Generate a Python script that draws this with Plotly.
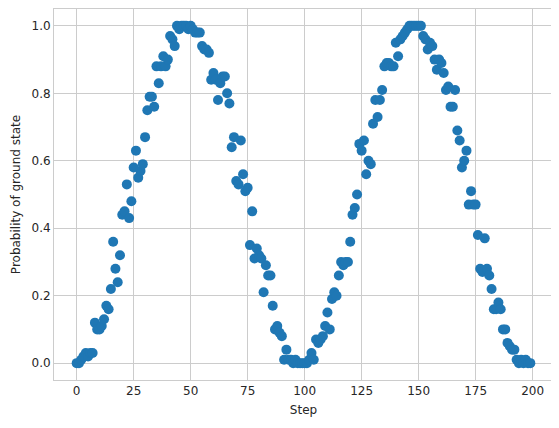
"""
Scatter of ground state probability per step
"""
import plotly.graph_objects as go

# Probability of ground state, one value per step (steps 0..199)
prob_0_49 = [
    0.00, 0.00, 0.01, 0.02, 0.03, 0.02, 0.03, 0.03, 0.12, 0.10,
    0.10, 0.11, 0.13, 0.17, 0.16, 0.22, 0.36, 0.28, 0.24, 0.32,
    0.44, 0.45, 0.53, 0.43, 0.48, 0.58, 0.63, 0.55, 0.57, 0.59,
    0.67, 0.75, 0.79, 0.79, 0.76, 0.88, 0.83, 0.88, 0.91, 0.88,
    0.90, 0.97, 0.96, 0.94, 1.00, 0.99, 1.00, 1.00, 1.00, 0.99,
]
prob_50_99 = [
    1.00, 0.99, 0.98, 0.98, 0.98, 0.94, 0.93, 0.93, 0.92, 0.84,
    0.86, 0.84, 0.78, 0.83, 0.85, 0.85, 0.80, 0.77, 0.64, 0.67,
    0.54, 0.53, 0.66, 0.56, 0.51, 0.52, 0.35, 0.45, 0.31, 0.34,
    0.32, 0.31, 0.21, 0.29, 0.26, 0.26, 0.17, 0.10, 0.11, 0.09,
    0.08, 0.01, 0.04, 0.01, 0.01, 0.00, 0.01, 0.00, 0.00, 0.00,
]
prob_100_149 = [
    0.00, 0.00, 0.01, 0.03, 0.01, 0.07, 0.06, 0.07, 0.08, 0.11,
    0.15, 0.10, 0.19, 0.21, 0.20, 0.26, 0.30, 0.29, 0.30, 0.30,
    0.36, 0.44, 0.46, 0.50, 0.65, 0.63, 0.66, 0.56, 0.60, 0.59,
    0.71, 0.78, 0.73, 0.78, 0.81, 0.88, 0.89, 0.89, 0.88, 0.88,
    0.95, 0.91, 0.96, 0.97, 0.98, 0.99, 1.00, 1.00, 1.00, 1.00,
]
prob_150_199 = [
    1.00, 1.00, 0.97, 0.96, 0.93, 0.95, 0.94, 0.90, 0.87, 0.90,
    0.89, 0.86, 0.81, 0.82, 0.76, 0.76, 0.81, 0.69, 0.66, 0.58,
    0.60, 0.63, 0.47, 0.51, 0.47, 0.47, 0.38, 0.28, 0.27, 0.37,
    0.28, 0.26, 0.22, 0.16, 0.16, 0.18, 0.16, 0.10, 0.10, 0.06,
    0.05, 0.04, 0.04, 0.01, 0.00, 0.01, 0.00, 0.01, 0.00, 0.00,
]

probabilities = prob_0_49 + prob_50_99 + prob_100_149 + prob_150_199
steps = list(range(len(probabilities)))

x_ticks = [0, 25, 50, 75, 100, 125, 150, 175, 200]
y_ticks = [0.0, 0.2, 0.4, 0.6, 0.8, 1.0]

GRID = '#cccccc'
TEXT = '#262626'

fig = go.Figure()

fig.add_trace(go.Scatter(
    x=steps,
    y=probabilities,
    mode='markers',
    marker=dict(color='#1f77b4', size=10, line=dict(width=0)),
    showlegend=False
))

axis_style = dict(
    showgrid=True,
    gridcolor=GRID,
    gridwidth=1,
    zeroline=False,
    showline=True,
    linecolor=GRID,
    linewidth=1,
    mirror=True,
    ticks='',
    tickfont=dict(size=12, color=TEXT),
)

# the page body adds an 8px offset, so the figure is a bit smaller
fig.update_layout(
    width=551,
    height=420,
    margin=dict(l=46, r=6, t=1, b=48),
    plot_bgcolor='white',
    paper_bgcolor='white',
    font=dict(family='DejaVu Sans', color=TEXT, size=12),
    xaxis=dict(
        range=[-9.95, 208.95],
        tickvals=x_ticks,
        title=dict(text='Step', font=dict(size=12, color=TEXT), standoff=8),
        **axis_style
    ),
    yaxis=dict(
        range=[-0.05, 1.05],
        tickvals=y_ticks,
        tickformat='.1f',
        title=dict(text='Probability of ground state', font=dict(size=12, color=TEXT), standoff=8),
        **axis_style
    ),
)

fig.write_html("out.html")
